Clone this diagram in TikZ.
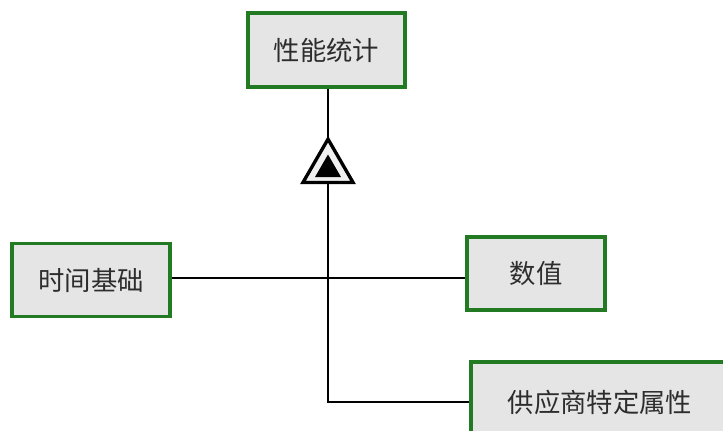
\documentclass[tikz,border=0pt]{standalone}
\usepackage{fontspec}
\newfontfamily\cjk{Noto Sans CJK SC}
\usepackage{tikz}
\usetikzlibrary{shapes.geometric}
\definecolor{boxgreen}{RGB}{34,122,34}
\definecolor{boxgray}{RGB}{229,229,229}
\definecolor{textgray}{RGB}{45,45,45}

\begin{document}
\begin{tikzpicture}[x=0.02cm,y=-0.02cm,line width=1.5pt]
            \tikzstyle{box}=[rectangle,draw=boxgreen,fill=boxgray,line width=1.8pt,inner sep=0pt,font=\cjk\fontsize{15}{18}\selectfont,text=textgray]
            \tikzstyle{marker}=[regular polygon,regular polygon sides=3,inner sep=0pt]
                \useasboundingbox (0,0) rectangle (723,430);
                \node[box,minimum width=3.14cm,minimum height=1.48cm] (stat) at (326.5,50){性能统计};
                \node[box,minimum width=3.16cm,minimum height=1.46cm] (time) at (91,280){时间基础};
                \node[box,minimum width=2.76cm,minimum height=1.46cm] (value) at (536,273.5){数值};
                \node[box,minimum width=5.16cm,minimum height=1.6cm] (vendor) at (600,402){供应商特定属性};
                \coordinate (J) at (328,278);

                \draw (stat.south -| J) -- (J |- vendor.west) -- (vendor.west);
                \foreach \from/\to in {time.east/value.west}
                    \draw (J -| \from) -- (J -| \to);

                \node[marker,draw=black,fill=gray!12,line width=1.9pt,minimum size=1.156cm] (tri) at (328,168){};
                \node[marker,fill=black,minimum size=0.6cm] (tri-in) at (328,169.5){};
        \end{tikzpicture}
\end{document}
